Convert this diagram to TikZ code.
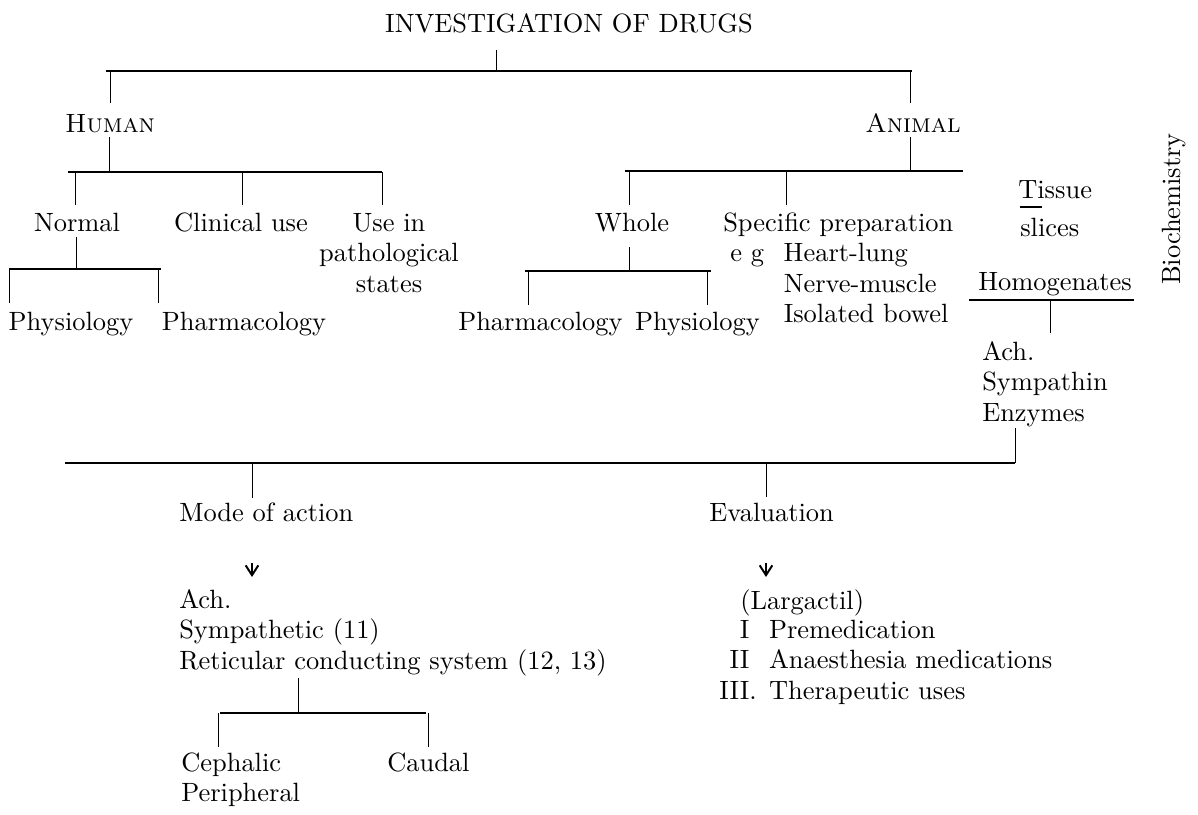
\documentclass[tikz,border=0pt]{standalone}
\usepackage{fontspec}
\setmainfont{lmroman10-regular.otf}[SmallCapsFont=lmromancaps10-regular.otf]
\usepackage{tikz}
\usetikzlibrary{arrows.meta,positioning,calc}
\newcommand{\stackl}[1]{\begin{tabular}[t]{@{}l@{}}#1\end{tabular}}
\newcommand{\stackc}[1]{\begin{tabular}[t]{@{}c@{}}#1\end{tabular}}
\begin{document}
\begin{tikzpicture}[
    x=0.025cm, y=-0.025cm,
    font=\fontsize{18.8pt}{21.7pt}\selectfont,
    txt/.style={inner sep=0pt, anchor=base},
    ltxt/.style={inner sep=0pt, anchor=base west},
    rtxt/.style={inner sep=0pt, anchor=base east},
    bar/.style={line width=0.8pt},
    stem/.style={line width=0.6pt},
    arr/.style={line width=1.3pt, -{Straight Barb[length=7pt,width=9pt,line width=1.4pt]}},
]
\useasboundingbox (0,0) rectangle (1198,815);

% Top: human / animal
\node[txt] (title) at (569,32) {INVESTIGATION OF DRUGS};
\coordinate (topL) at (106,71);
\coordinate (topR) at (912,71);
\draw[bar] (topL) -- (topR);
\draw[stem] (title.base) ++(-73,18) -- ++(0,21);
\draw[stem] (topL) ++(4,0) -- ++(0,32);
\draw[stem] (topR) ++(-2,0) -- ++(0,32);
\node[txt] (human) at (110,132) {\textsc{Human}};
\node[txt] (animal) at (913,132) {\textsc{Animal}};

% Human branch
\coordinate (hbarL) at (68,172);
\coordinate (hbarR) at (382,172);
\draw[stem] (human.base) ++(-1,5) -- ++(0,35);
\draw[bar] (hbarL) -- (hbarR);
\draw[stem] (hbarL) ++(7,0) -- ++(0,33);
\draw[stem] (hbarL) ++(174,0) -- ++(0,33);
\draw[stem] (hbarR) -- ++(0,33);
\node[txt] (normal) at (77,231) {Normal};
\node[txt] (clinical) at (241,231) {Clinical use};
\node[txt] (patho) at (389,231) {\stackc{Use in\\pathological\\states}};

\coordinate (nbarL) at (9,269);
\coordinate (nbarR) at (161,269);
\draw[stem] (normal.base) ++(-1,6) -- ++(0,32);
\draw[bar] (nbarL) -- (nbarR);
\draw[stem] (nbarL) -- ++(0,34);
\draw[stem] (nbarR) ++(-3,0) -- ++(0,34);
\node[txt] (physio1) at (71,330) {Physiology};
\node[txt] (pharma1) at (244,330) {Pharmacology};

% Animal branch
\coordinate (abarL) at (625,171);
\coordinate (abarR) at (963,171);
\draw[stem] (animal.base) ++(-3,5) -- ++(0,34);
\draw[bar] (abarL) -- (abarR);
\draw[stem] (abarL) ++(4,0) -- ++(0,34);
\draw[stem] (abarL) ++(161,0) -- ++(0,34);
\node[txt] (whole) at (632,231) {Whole};
\node[ltxt] (specific) at (723,231) {\begin{tabular}[t]{@{}l@{\hspace{14pt}}l@{}}
    \multicolumn{2}{@{}l@{}}{Specific preparation}\\
    \hspace{5pt}e g & Heart-lung\\
    & Nerve-muscle\\
    & Isolated bowel\end{tabular}};

\coordinate (wbarL) at (525,271);
\coordinate (wbarR) at (711,271);
\draw[stem] (whole.base) ++(-3,16) -- ++(0,24);
\draw[bar] (wbarL) -- (wbarR);
\draw[stem] (wbarL) ++(3,0) -- ++(0,34);
\draw[stem] (wbarR) ++(-4,0) -- ++(0,34);
\node[ltxt] (pharma2) at (458,330) {Pharmacology};
\node[rtxt] (physio2) at (760,330) {Physiology};

% Biochemistry
\node[inner sep=0pt, rotate=90] (biochem) at (1174,209) {Biochemistry};
\node[ltxt] (tissue) at (1018,198) {Tissue};
\draw[bar] (tissue.base west) ++(2,9) -- ++(22,0);
\node[ltxt] (slices) at (1020,236) {slices};
\node[ltxt] (homog) at (978,290) {Homogenates};
\coordinate (gbarL) at (969,300);
\coordinate (gbarR) at (1134,300);
\draw[bar] (gbarL) -- (gbarR);
\draw[stem] (gbarL) ++(81,0) -- ++(0,33);
\node[ltxt] (achs) at (982,360) {\stackl{Ach.\\Sympathin\\Enzymes}};

% Bottom: mode of action / evaluation
\coordinate (bbarL) at (65,463);
\coordinate (bbarR) at (1015,463);
\draw[stem] (achs.base west) ++(33,68) -- (bbarR);
\draw[bar] (bbarL) -- (bbarR);
\draw[stem] (bbarL) ++(187,0) -- ++(0,35);
\draw[stem] (bbarL) ++(701,0) -- ++(0,34);
\node[ltxt] (mode) at (179,521) {Mode of action};
\node[ltxt] (eval) at (709,521) {Evaluation};

\coordinate (modearr) at (252,563);
\coordinate (evalarr) at (766,563);
\draw[arr] (modearr) -- ++(0,14);
\draw[arr] (evalarr) -- ++(0,14);

\node[ltxt] (mech) at (179,608) {\stackl{Ach.\\Sympathetic (11)\\Reticular conducting system (12, 13)}};
\coordinate (rbarL) at (220,713);
\coordinate (rbarR) at (426,713);
\draw[stem] (mech.base west) ++(119,70) -- ++(0,35);
\draw[bar] (rbarL) -- (rbarR);
\draw[stem] (rbarL) ++(-2,0) -- ++(0,34);
\draw[stem] (rbarR) ++(2,0) -- ++(0,34);
\node[ltxt] (ceph) at (181,771) {\stackl{Cephalic\\Peripheral}};
\node[ltxt] (caudal) at (387,771) {Caudal};

\node[ltxt] (largactil) at (740,609) {(Largactil)};
\node[ltxt] (uses) at (719,638) {\begin{tabular}[t]{@{}r@{\hspace{14pt}}l@{}}
    I & Premedication\\
    II & Anaesthesia medications\\
    III\rlap{.} & Therapeutic uses\end{tabular}};
\end{tikzpicture}
\end{document}
